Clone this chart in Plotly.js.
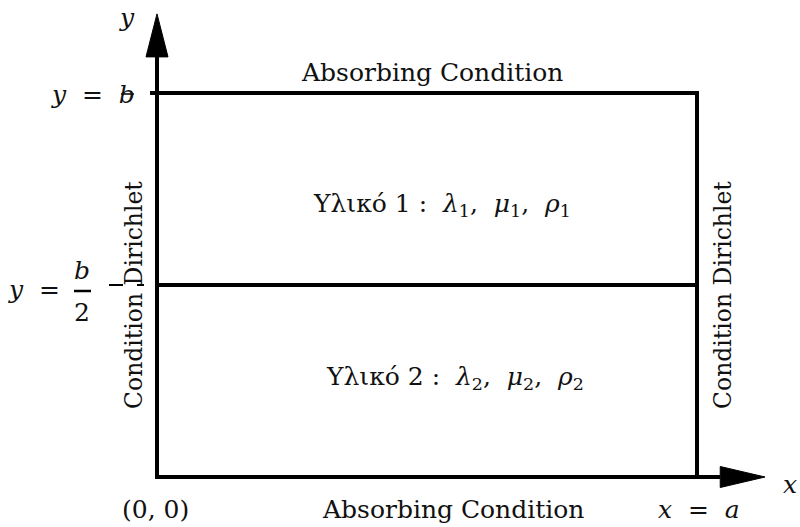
<!DOCTYPE html>
<html>
<head>
<meta charset="utf-8">
<script src="https://cdn.plot.ly/plotly-3.0.1.min.js"></script>
</head>
<body style="margin:0">
<div id="plot"></div>
<script>
// ---- domain values (diagram in units of a and b) ----
const a = 1;
const b = 1;
const interfaceLevel = b / 2;
const xAxisTip = 1.126;
const yAxisTip = 1.206;
const tickLabels = ['<i>y</i>\u00a0 =\u00a0 <i>b</i>', '<i>y</i>\u00a0 =', '<i>b</i>', '2', '(0, 0)', '<i>x</i>\u00a0 =\u00a0 <i>a</i>'];
const axisLabels = ['<i>x</i>', '<i>y</i>'];
const boundaryLabels = ['Absorbing Condition', 'Condition Dirichlet'];
const materialLabels = [
  'Υλικό 1 :\u00a0 <i>λ</i><sub>1</sub>,\u00a0 <i>μ</i><sub>1</sub>,\u00a0 <i>ρ</i><sub>1</sub>',
  'Υλικό 2 :\u00a0 <i>λ</i><sub>2</sub>,\u00a0 <i>μ</i><sub>2</sub>,\u00a0 <i>ρ</i><sub>2</sub>'
];

// ---- pixel <-> data mapping (layout only) ----
const W = 800, H = 527;
const X0 = 157, XA = 697, Y0 = 477, YB = 93;
const sx = (XA - X0) / a, sy = (Y0 - YB) / b;
const px2x = p => (p - X0) / sx;
const px2y = p => (Y0 - p) / sy;

const K = 'black';
const seg = (x, y, w) => ({x, y, type: 'scatter', mode: 'lines', line: {color: K, width: w}, hoverinfo: 'skip'});
const arrowLen = 0.083 * a, arrowHalfY = 10.5 / sy;
const yArrowLen = 0.112 * b, yArrowHalf = 11 / sx;

const traces = [
  seg([px2x(155), xAxisTip - arrowLen], [0, 0], 4),
  seg([0, 0], [px2y(479), yAxisTip - yArrowLen], 4),
  seg([px2x(150), a, a], [b, b, 0], 4),
  seg([0, a], [interfaceLevel, interfaceLevel], 4),
  seg([px2x(109), px2x(123)], [interfaceLevel, interfaceLevel], 2),
  seg([px2x(137), px2x(144)], [interfaceLevel, interfaceLevel], 2),
  {
    x: [xAxisTip - arrowLen, xAxisTip, xAxisTip - arrowLen, xAxisTip - arrowLen],
    y: [arrowHalfY, 0, -arrowHalfY, arrowHalfY],
    type: 'scatter', mode: 'lines', fill: 'toself', fillcolor: K, line: {color: K, width: 1}, hoverinfo: 'skip'
  },
  {
    x: [-yArrowHalf, 0, yArrowHalf, -yArrowHalf],
    y: [yAxisTip - yArrowLen, yAxisTip, yAxisTip - yArrowLen, yAxisTip - yArrowLen],
    type: 'scatter', mode: 'lines', fill: 'toself', fillcolor: K, line: {color: K, width: 1}, hoverinfo: 'skip'
  }
];

const FAM = 'DejaVu Serif';
const FS = 25;
const FSV = 23.5;
const ann = (text, px, baseline, xanchor) => ({
  text, x: px / W, y: 1 - (baseline - 0.3 * FS) / H, xref: 'paper', yref: 'paper',
  xanchor: xanchor || 'center', yanchor: 'middle', showarrow: false,
  font: {family: FAM, size: FS, color: '#111'}
});
const vann = (text, px, py) => ({
  text, x: px / W, y: 1 - py / H, xref: 'paper', yref: 'paper', textangle: -90,
  xanchor: 'center', yanchor: 'middle', showarrow: false,
  font: {family: FAM, size: FSV, color: '#111'}
});

const annotations = [
  ann(axisLabels[1], 127, 25),
  ann(axisLabels[0], 790, 492),
  ann(tickLabels[0], 137, 102, 'right'),
  ann(tickLabels[1], 62, 297, 'right'),
  ann(tickLabels[2], 82, 278),
  ann(tickLabels[3], 82, 320),
  ann(tickLabels[4], 155, 517),
  ann(tickLabels[5], 699, 517),
  ann(boundaryLabels[0], 432, 80),
  ann(boundaryLabels[0], 453, 517),
  ann(materialLabels[0], 442, 213),
  ann(materialLabels[1], 455, 385),
  vann(boundaryLabels[1], 134, 295),
  vann(boundaryLabels[1], 723, 295)
];

const shapes = [
  {type: 'line', xref: 'paper', yref: 'paper', x0: 74 / W, x1: 91 / W, y0: 1 - 291 / H, y1: 1 - 291 / H, line: {color: K, width: 2.5}},
  {type: 'line', xref: 'paper', yref: 'paper', x0: 121 / W, x1: 134 / W, y0: 1 - 94 / H, y1: 1 - 94 / H, line: {color: K, width: 1.5}}
];

const layout = {
  width: W, height: H,
  margin: {l: 0, r: 0, t: 0, b: 0},
  showlegend: false,
  xaxis: {range: [px2x(0), px2x(W)], visible: false},
  yaxis: {range: [px2y(H), px2y(0)], visible: false},
  annotations, shapes
};

Plotly.newPlot('plot', traces, layout, {displayModeBar: false});
</script>
</body>
</html>
